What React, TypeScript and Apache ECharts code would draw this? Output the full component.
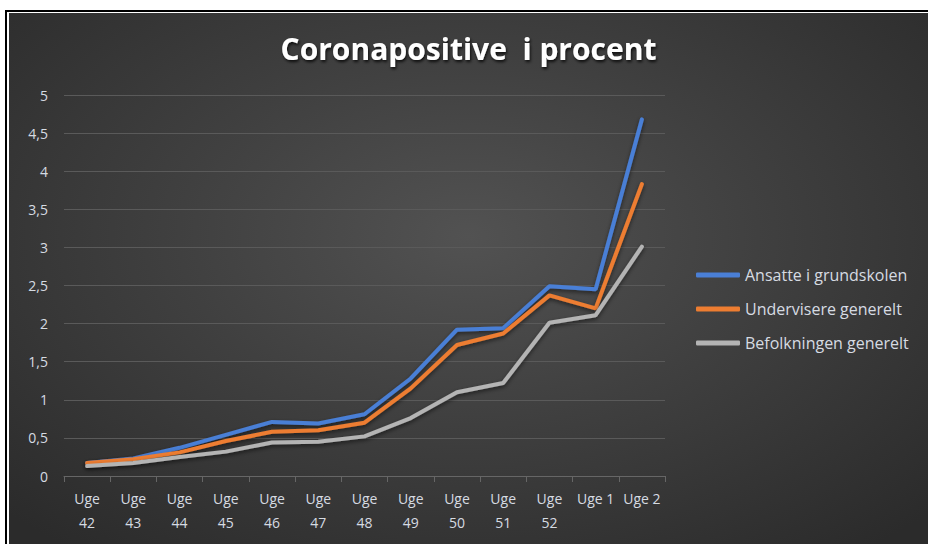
import React, { useEffect, useRef } from "react";
import * as echarts from "echarts";

const categories = ["Uge 42", "Uge 43", "Uge 44", "Uge 45", "Uge 46", "Uge 47", "Uge 48", "Uge 49", "Uge 50", "Uge 51", "Uge 52", "Uge 1", "Uge 2"];
const ansatte = [0.17, 0.23, 0.37, 0.54, 0.71, 0.69, 0.81, 1.28, 1.92, 1.94, 2.49, 2.45, 4.68];
const undervisere = [0.17, 0.22, 0.31, 0.46, 0.58, 0.6, 0.7, 1.15, 1.72, 1.87, 2.37, 2.2, 3.83];
const befolkningen = [0.13, 0.17, 0.25, 0.32, 0.44, 0.45, 0.52, 0.76, 1.1, 1.22, 2.01, 2.11, 3.01];
const seriesNames = ["Ansatte i grundskolen", "Undervisere generelt", "Befolkningen generelt"];
const colors = ["#4a7fd6", "#ed7d31", "#b4b4b4"];

export default function App() {
  const ref = useRef<HTMLDivElement>(null);
  useEffect(() => {
    if (!ref.current) return;
    const chart = echarts.init(ref.current, null, { renderer: "svg" });
    const font = "'Open Sans', 'DejaVu Sans', sans-serif";
    const mk = (name: string, data: number[], color: string) => ({
      name,
      type: "line",
      data,
      symbol: "none",
      smooth: false,
      lineStyle: {
        width: 4,
        color,
        cap: "round",
        shadowColor: "rgba(0,0,0,0.55)",
        shadowBlur: 4,
        shadowOffsetY: 2,
      },
      itemStyle: { color },
    });
    chart.setOption({
      animation: false,
      backgroundColor: "transparent",
      textStyle: { fontFamily: font },
      title: {
        text: "Coronapositive  i procent",
        left: "center",
        top: 15,
        textStyle: {
          color: "#ffffff",
          fontSize: 30,
          fontWeight: "bold",
          fontFamily: font,
          textShadowColor: "rgba(0,0,0,0.8)",
          textShadowBlur: 3,
          textShadowOffsetX: 1,
          textShadowOffsetY: 2,
        },
      },
      grid: { left: 55, right: 263, top: 82, bottom: 68, containLabel: false },
      legend: {
        orient: "vertical",
        left: 682,
        top: 249,
        itemWidth: 44,
        itemHeight: 5,
        itemGap: 18,
        icon: "roundRect",
        textStyle: { color: "#d6dbe2", fontSize: 16, fontFamily: font },
        data: seriesNames,
      },
      xAxis: {
        type: "category",
        data: categories,
        boundaryGap: true,
        axisLine: { lineStyle: { color: "#666666", width: 1 } },
        axisTick: { show: true, length: 6, lineStyle: { color: "#666666" } },
        axisLabel: {
          color: "#d6dbe2",
          fontSize: 14,
          margin: 10,
          lineHeight: 24,
          interval: 0,
          formatter: (v: string) => (v.length > 5 ? v.replace(" ", "\n") : v),
        },
        splitLine: { show: false },
      },
      yAxis: {
        type: "value",
        min: 0,
        max: 5,
        interval: 0.5,
        axisLine: { show: false },
        axisTick: { show: false },
        axisLabel: {
          color: "#d6dbe2",
          fontSize: 14,
          margin: 16,
          formatter: (v: number) => String(v).replace(".", ","),
        },
        splitLine: { lineStyle: { color: "#5a5a5a", width: 1 } },
      },
      series: [
        mk(seriesNames[0], ansatte, colors[0]),
        mk(seriesNames[1], undervisere, colors[1]),
        mk(seriesNames[2], befolkningen, colors[2]),
      ],
    });
    return () => chart.dispose();
  }, []);
  return (
    <div style={{ position: "fixed", left: 0, top: 0, width: 928, height: 544, background: "#ffffff", overflow: "hidden" }}>
      <div style={{ position: "absolute", left: 5, top: 10, width: 923, height: 534, borderTop: "2px solid #000", borderLeft: "2px solid #000" }} />
      <div
        ref={ref}
        style={{
          position: "absolute",
          left: 9,
          top: 13,
          width: 919,
          height: 531,
          background: "radial-gradient(ellipse 70% 75% at 50% 42%, #525252 0%, #404040 45%, #2b2b2b 100%)",
        }}
      />
    </div>
  );
}
